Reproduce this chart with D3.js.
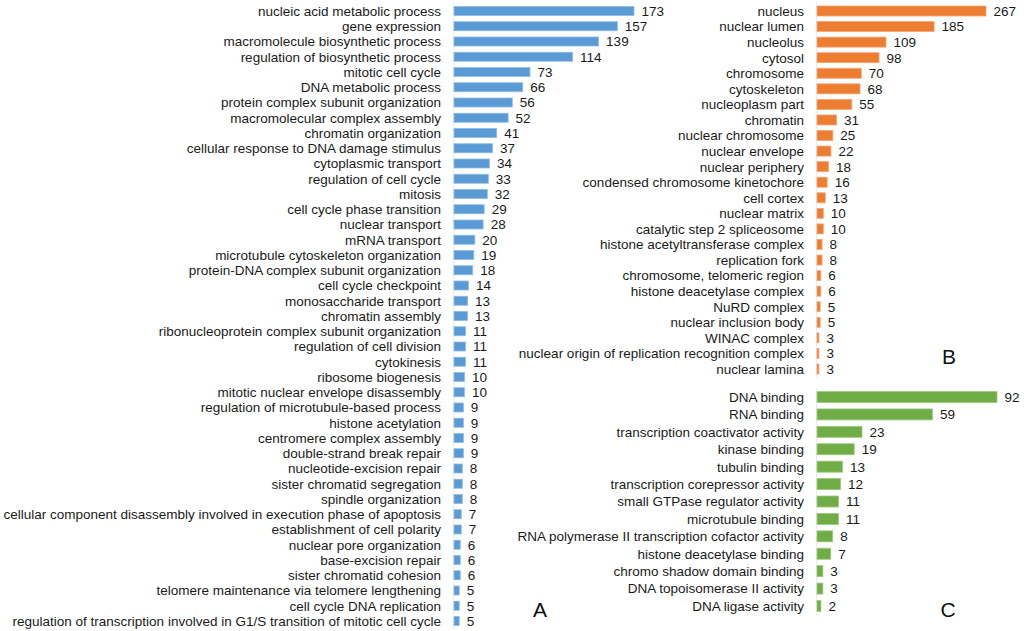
<!DOCTYPE html>
<html><head><meta charset="utf-8">
<script src="https://cdn.jsdelivr.net/npm/d3@7"></script>
<style>
html,body{margin:0;padding:0;background:#fff;}
svg{display:block;font-family:"Liberation Sans",Arial,sans-serif;}
</style></head>
<body>
<svg id="chart" width="1024" height="631"></svg>
<script>
const bpTerms = ["nucleic acid metabolic process","gene expression","macromolecule biosynthetic process","regulation of biosynthetic process","mitotic cell cycle","DNA metabolic process","protein complex subunit organization","macromolecular complex assembly","chromatin organization","cellular response to DNA damage stimulus","cytoplasmic transport","regulation of cell cycle","mitosis","cell cycle phase transition","nuclear transport","mRNA transport","microtubule cytoskeleton organization","protein-DNA complex subunit organization","cell cycle checkpoint","monosaccharide transport","chromatin assembly","ribonucleoprotein complex subunit organization","regulation of cell division","cytokinesis","ribosome biogenesis","mitotic nuclear envelope disassembly","regulation of microtubule-based process","histone acetylation","centromere complex assembly","double-strand break repair","nucleotide-excision repair","sister chromatid segregation","spindle organization","cellular component disassembly involved in execution phase of apoptosis","establishment of cell polarity","nuclear pore organization","base-excision repair","sister chromatid cohesion","telomere maintenance via telomere lengthening","cell cycle DNA replication","regulation of transcription involved in G1/S transition of mitotic cell cycle"];
const bpCounts = [173,157,139,114,73,66,56,52,41,37,34,33,32,29,28,20,19,18,14,13,13,11,11,11,10,10,9,9,9,9,8,8,8,7,7,6,6,6,5,5,5];

const ccTerms = ["nucleus","nuclear lumen","nucleolus","cytosol","chromosome","cytoskeleton","nucleoplasm part","chromatin","nuclear chromosome","nuclear envelope","nuclear periphery","condensed chromosome kinetochore","cell cortex","nuclear matrix","catalytic step 2 spliceosome","histone acetyltransferase complex","replication fork","chromosome, telomeric region","histone deacetylase complex","NuRD complex","nuclear inclusion body","WINAC complex","nuclear origin of replication recognition complex","nuclear lamina"];
const ccCounts = [267,185,109,98,70,68,55,31,25,22,18,16,13,10,10,8,8,6,6,5,5,3,3,3];

const mfTerms = ["DNA binding","RNA binding","transcription coactivator activity","kinase binding","tubulin binding","transcription corepressor activity","small GTPase regulator activity","microtubule binding","RNA polymerase II transcription cofactor activity","histone deacetylase binding","chromo shadow domain binding","DNA topoisomerase II activity","DNA ligase activity"];
const mfCounts = [92,59,23,19,13,12,11,11,8,7,3,3,2];

const panelLetters = ["A","B","C"];

const svg = d3.select("#chart");

function panel(terms, counts, opt){
  const g = svg.append("g");
  const x = d3.scaleLinear().domain([0, opt.max]).range([opt.x0, opt.x1]);
  const y = d3.scalePoint().domain(terms).range([opt.y0, opt.y1]);
  g.append("line")
    .attr("x1", x(0) - 0.5).attr("x2", x(0) - 0.5)
    .attr("y1", opt.y0 - 9).attr("y2", opt.y1 + 9)
    .attr("stroke", "#ececec").attr("stroke-width", 1);
  const rows = g.selectAll("g.row").data(terms.map((t,i)=>({t, v:counts[i]}))).join("g").attr("class","row");
  rows.append("rect")
    .attr("x", x(0))
    .attr("y", d => y(d.t) - opt.bh/2)
    .attr("width", d => x(d.v) - x(0))
    .attr("height", opt.bh)
    .attr("fill", opt.color)
    .attr("stroke", opt.edge).attr("stroke-width", 0.8);
  rows.append("text")
    .attr("x", x(0) - 13)
    .attr("y", d => y(d.t))
    .attr("dy", "0.36em")
    .attr("text-anchor", "end")
    .attr("font-size", opt.fs)
    .attr("fill", "#1a1a1a")
    .text(d => d.t);
  rows.append("text")
    .attr("x", d => x(d.v) + 7.5)
    .attr("y", d => y(d.t))
    .attr("dy", "0.36em")
    .attr("font-size", opt.vfs)
    .attr("fill", "#1a1a1a")
    .text(d => d.v);
}

panel(bpTerms, bpCounts, {max:173, x0:454, x1:634, y0:11, y1:621, bh:9, color:"#5b9bd5", edge:"#8dbbe6", fs:13.5, vfs:13.5});
panel(ccTerms, ccCounts, {max:267, x0:817, x1:986, y0:11, y1:369, bh:10, color:"#ed7d31", edge:"#f4a675", fs:13.5, vfs:13.5});
panel(mfTerms, mfCounts, {max:92, x0:817, x1:997, y0:397, y1:606, bh:11, color:"#70ad47", edge:"#9ccb7c", fs:13.5, vfs:13.5});

const letterPos = [[540,617],[949,364],[948,617]];
svg.selectAll("text.letter").data(panelLetters).join("text")
  .attr("class","letter")
  .attr("x", (d,i)=>letterPos[i][0])
  .attr("y", (d,i)=>letterPos[i][1])
  .attr("text-anchor","middle")
  .attr("font-size", 21)
  .attr("fill","#111")
  .text(d=>d);
</script>
</body></html>
